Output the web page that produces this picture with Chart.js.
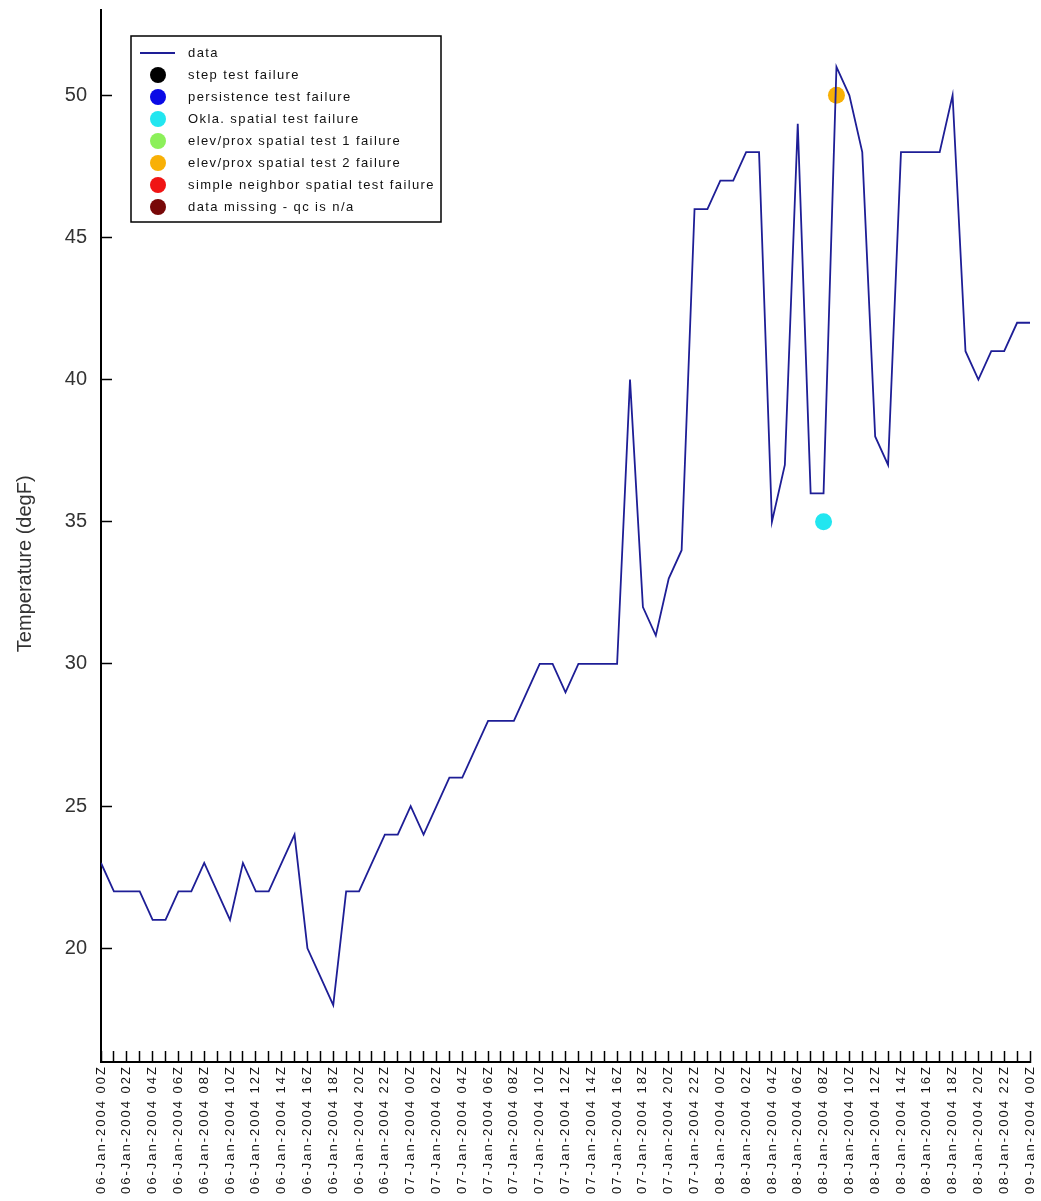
<!DOCTYPE html>
<html>
<head>
<meta charset="utf-8">
<title>Temperature (degF)</title>
<script src="https://cdn.jsdelivr.net/npm/chart.js@4/dist/chart.umd.min.js"></script>
<style>
  html, body { margin: 0; padding: 0; background: #fff; }
  canvas { display: block; }
</style>
</head>
<body>
<canvas id="c" width="1041" height="1201"></canvas>
<script>
// Hourly air temperature, 06-Jan-2004 00Z through 09-Jan-2004 00Z (73 observations)
const temperature = [
  23, 22, 22, 22, 21, 21, 22, 22, 23, 22,
  21, 23, 22, 22, 23, 24, 20, 19, 18, 22,
  22, 23, 24, 24, 25, 24, 25, 26, 26, 27,
  28, 28, 28, 29, 30, 30, 29, 30, 30, 30,
  30, 40, 32, 31, 33, 34, 46, 46, 47, 47,
  48, 48, 35, 37, 49, 36, 36, 51, 50, 48,
  38, 37, 48, 48, 48, 48, 50, 41, 40, 41,
  41, 42, 42
];

// QC flags: hour index and flagged value for each test
const stepFailHours = [],        stepFailValues = [];
const persistFailHours = [],     persistFailValues = [];
const oklaFailHours = [56],      oklaFailValues = [35];
const elevProx1FailHours = [],   elevProx1FailValues = [];
const elevProx2FailHours = [57], elevProx2FailValues = [50];
const neighborFailHours = [],    neighborFailValues = [];
const missingHours = [],         missingValues = [];

// Labels for every second hourly tick
const hourLabels = [
  '06-Jan-2004 00Z', '06-Jan-2004 02Z', '06-Jan-2004 04Z', '06-Jan-2004 06Z',
  '06-Jan-2004 08Z', '06-Jan-2004 10Z', '06-Jan-2004 12Z', '06-Jan-2004 14Z',
  '06-Jan-2004 16Z', '06-Jan-2004 18Z', '06-Jan-2004 20Z', '06-Jan-2004 22Z',
  '07-Jan-2004 00Z', '07-Jan-2004 02Z', '07-Jan-2004 04Z', '07-Jan-2004 06Z',
  '07-Jan-2004 08Z', '07-Jan-2004 10Z', '07-Jan-2004 12Z', '07-Jan-2004 14Z',
  '07-Jan-2004 16Z', '07-Jan-2004 18Z', '07-Jan-2004 20Z', '07-Jan-2004 22Z',
  '08-Jan-2004 00Z', '08-Jan-2004 02Z', '08-Jan-2004 04Z', '08-Jan-2004 06Z',
  '08-Jan-2004 08Z', '08-Jan-2004 10Z', '08-Jan-2004 12Z', '08-Jan-2004 14Z',
  '08-Jan-2004 16Z', '08-Jan-2004 18Z', '08-Jan-2004 20Z', '08-Jan-2004 22Z',
  '09-Jan-2004 00Z'
];

const yTickValues = [20, 25, 30, 35, 40, 45, 50];

const toPoints = (xs, ys) => xs.map((x, i) => ({ x: x, y: ys[i] }));

function flagSet(label, color, xs, ys) {
  return {
    label: label,
    data: toPoints(xs, ys),
    showLine: false,
    pointRadius: 8.5,
    pointHoverRadius: 8.5,
    pointBackgroundColor: color,
    pointBorderColor: color,
    pointBorderWidth: 0,
    backgroundColor: color,
    borderColor: color
  };
}

const datasets = [
  {
    label: 'data',
    data: temperature.map((v, i) => ({ x: i, y: v })),
    borderColor: '#1e1e96',
    borderWidth: 1.8,
    pointRadius: 0,
    tension: 0,
    fill: false
  },
  flagSet('step test failure', '#000000', stepFailHours, stepFailValues),
  flagSet('persistence test failure', '#0a0ae6', persistFailHours, persistFailValues),
  flagSet('Okla. spatial test failure', '#22e6f0', oklaFailHours, oklaFailValues),
  flagSet('elev/prox spatial test 1 failure', '#8cf05a', elevProx1FailHours, elevProx1FailValues),
  flagSet('elev/prox spatial test 2 failure', '#f8b006', elevProx2FailHours, elevProx2FailValues),
  flagSet('simple neighbor spatial test failure', '#f01414', neighborFailHours, neighborFailValues),
  flagSet('data missing - qc is n/a', '#780808', missingHours, missingValues)
];

// Boxed key in the upper-left corner of the plot, built from the datasets
const qcKey = {
  id: 'qcKey',
  afterDatasetsDraw(chart) {
    // wider spacing for the hour labels drawn next
    chart.ctx.letterSpacing = '2px';
  },
  afterDraw(chart, args, opts) {
    const ctx = chart.ctx;
    ctx.letterSpacing = '0px';
    const area = chart.chartArea;
    const x0 = area.left + opts.offsetX;
    const y0 = area.top + opts.offsetY;
    ctx.save();
    ctx.fillStyle = '#ffffff';
    ctx.fillRect(x0, y0, opts.width, opts.height);
    ctx.strokeStyle = '#000000';
    ctx.lineWidth = 1.5;
    ctx.strokeRect(x0, y0, opts.width, opts.height);
    ctx.font = opts.font;
    ctx.letterSpacing = opts.letterSpacing;
    ctx.textBaseline = 'middle';
    ctx.textAlign = 'left';
    chart.data.datasets.forEach((ds, i) => {
      const cy = y0 + opts.firstRow + i * opts.rowGap;
      if (ds.showLine === false) {
        ctx.beginPath();
        ctx.fillStyle = ds.pointBackgroundColor;
        ctx.arc(x0 + opts.symbolX, cy, opts.symbolRadius, 0, Math.PI * 2);
        ctx.fill();
      } else {
        ctx.beginPath();
        ctx.strokeStyle = ds.borderColor;
        ctx.lineWidth = ds.borderWidth;
        ctx.moveTo(x0 + opts.symbolX - 18, cy);
        ctx.lineTo(x0 + opts.symbolX + 17, cy);
        ctx.stroke();
      }
      ctx.fillStyle = '#111111';
      ctx.fillText(ds.label, x0 + opts.textX, cy);
    });
    ctx.restore();
  }
};

// Keep the plot frame fixed: no extra margin reserved for edge labels
function noEdgePadding(scale) {
  scale.paddingTop = 0;
  scale.paddingBottom = 0;
  scale.paddingLeft = 0;
  scale.paddingRight = 0;
}

new Chart(document.getElementById('c'), {
  type: 'line',
  data: { datasets: datasets },
  plugins: [qcKey],
  options: {
    responsive: false,
    animation: false,
    devicePixelRatio: 1,
    layout: { padding: { top: 10, right: 11, left: 0, bottom: 0 } },
    plugins: {
      legend: { display: false },
      tooltip: { enabled: false },
      qcKey: {
        offsetX: 30, offsetY: 26, width: 310, height: 186,
        firstRow: 17, rowGap: 22, symbolX: 27, symbolRadius: 8, textX: 57,
        font: '13px "Liberation Sans", Arial, sans-serif',
        letterSpacing: '1.4px'
      }
    },
    scales: {
      x: {
        type: 'linear',
        min: 0,
        max: 72,
        afterFit(scale) { scale.height = 139; noEdgePadding(scale); },
        grid: {
          drawOnChartArea: false,
          drawTicks: true,
          tickLength: -11,
          tickWidth: 1.5,
          tickColor: '#000000'
        },
        border: { display: true, color: '#000000', width: 2 },
        ticks: {
          stepSize: 1,
          autoSkip: false,
          minRotation: 90,
          maxRotation: 90,
          padding: 14,
          z: 1,
          color: '#111111',
          font: { family: '"Liberation Sans", Arial, sans-serif', size: 13 },
          callback(value) {
            return value % 2 === 0 ? hourLabels[value / 2] : '';
          }
        }
      },
      y: {
        type: 'linear',
        min: 16,
        max: 53,
        afterFit(scale) { scale.width = 101; noEdgePadding(scale); },
        afterBuildTicks(scale) {
          scale.ticks = yTickValues.map(v => ({ value: v }));
        },
        grid: {
          drawOnChartArea: false,
          drawTicks: true,
          tickLength: -11,
          tickWidth: 1.5,
          tickColor: '#000000'
        },
        border: { display: true, color: '#000000', width: 2 },
        ticks: {
          padding: 25,
          color: '#333333',
          font: { family: '"Liberation Sans", Arial, sans-serif', size: 20 }
        },
        title: {
          display: true,
          // trailing spaces nudge the centred title a little lower along the axis
          text: 'Temperature (degF)          ',
          color: '#333333',
          font: { family: '"Liberation Sans", Arial, sans-serif', size: 20 },
          padding: { top: 13, bottom: 0 }
        }
      }
    }
  }
});
</script>
</body>
</html>
